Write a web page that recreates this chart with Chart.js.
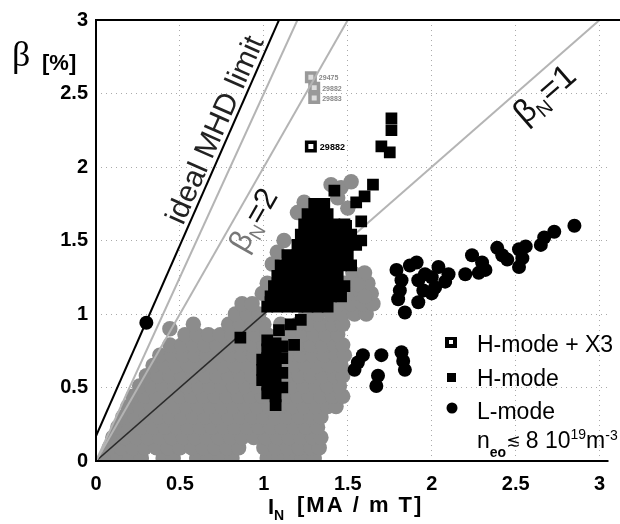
<!DOCTYPE html>
<html>
<head>
<meta charset="utf-8">
<script src="https://cdn.jsdelivr.net/npm/chart.js@4.4.1/dist/chart.umd.min.js"></script>
<style>
  html, body { margin: 0; padding: 0; background: #fff; }
  canvas { display: block; }
</style>
</head>
<body>
<canvas id="beta" width="620" height="524"></canvas>
<script>
const xTicks = [0, 0.5, 1, 1.5, 2, 2.5, 3];
const yTicks = [0, 0.5, 1, 1.5, 2, 2.5, 3];

// grey cloud (shots above the density cut), read row by row
const grayRowY = [0.02, 0.09, 0.16, 0.23, 0.30, 0.37, 0.44, 0.51, 0.58, 0.65, 0.72, 0.79, 0.86, 0.93, 1.00, 1.07, 1.14, 1.21, 1.28];
const grayRowX = [
  [0.06, 0.13, 0.2, 0.27, 0.4, 0.46, 0.6, 0.67, 0.74, 0.81, 1.02, 1.09, 1.16, 1.23, 1.3],
  [0.08, 0.15, 0.22, 0.29, 0.36, 0.43, 0.5, 0.57, 0.64, 0.71, 0.78, 0.85, 1.0, 1.07, 1.14, 1.21, 1.28, 1.33],
  [0.1, 0.17, 0.24, 0.31, 0.38, 0.45, 0.52, 0.59, 0.66, 0.73, 0.8, 0.87, 0.94, 1.01, 1.08, 1.15, 1.22, 1.29, 1.34],
  [0.13, 0.2, 0.27, 0.34, 0.41, 0.48, 0.55, 0.62, 0.69, 0.76, 0.83, 0.9, 0.97, 1.04, 1.11, 1.18, 1.25, 1.32],
  [0.16, 0.23, 0.3, 0.37, 0.44, 0.51, 0.58, 0.65, 0.72, 0.79, 0.86, 0.93, 1.0, 1.07, 1.14, 1.21, 1.28, 1.34],
  [0.19, 0.26, 0.33, 0.4, 0.47, 0.54, 0.61, 0.68, 0.75, 0.82, 0.89, 0.96, 1.03, 1.1, 1.17, 1.24, 1.31, 1.38, 1.43],
  [0.22, 0.29, 0.36, 0.43, 0.5, 0.57, 0.64, 0.71, 0.78, 0.85, 0.92, 0.99, 1.06, 1.13, 1.2, 1.27, 1.34, 1.41, 1.47],
  [0.26, 0.33, 0.4, 0.47, 0.54, 0.61, 0.68, 0.75, 0.82, 0.89, 0.96, 1.03, 1.1, 1.17, 1.24, 1.31, 1.38, 1.45],
  [0.3, 0.37, 0.44, 0.51, 0.58, 0.65, 0.72, 0.79, 0.86, 0.93, 1.0, 1.07, 1.14, 1.21, 1.28, 1.35, 1.42, 1.47],
  [0.34, 0.41, 0.48, 0.55, 0.62, 0.69, 0.76, 0.83, 0.9, 0.97, 1.04, 1.11, 1.18, 1.25, 1.32, 1.39, 1.46],
  [0.38, 0.45, 0.52, 0.59, 0.66, 0.73, 0.8, 0.87, 0.94, 1.01, 1.08, 1.15, 1.22, 1.29, 1.36, 1.43, 1.48],
  [0.44, 0.51, 0.58, 0.65, 0.72, 0.79, 0.86, 0.93, 1.0, 1.07, 1.14, 1.21, 1.28, 1.35, 1.42, 1.47],
  [0.53, 0.6, 0.67, 0.74, 0.81, 0.88, 0.95, 1.02, 1.09, 1.16, 1.23, 1.3, 1.37, 1.44],
  [0.58, 0.79, 0.86, 0.93, 1.0, 1.1, 1.2, 1.27, 1.34, 1.41, 1.47],
  [0.83, 0.9, 0.97, 1.25, 1.32, 1.4, 1.47, 1.54, 1.61],
  [0.87, 0.93, 1.38, 1.45, 1.52, 1.59, 1.65],
  [0.99, 1.44, 1.51, 1.58, 1.64],
  [1.02, 1.48, 1.55, 1.62],
  [1.53, 1.6]
];
const grayExtra = [[0.44, 0.9], [1.12, 1.5], [1.08, 1.42], [1.24, 1.76], [1.2, 1.69], [1.4, 1.88],
  [1.46, 1.86], [1.52, 1.9], [1.44, 1.79], [1.5, 1.72], [1.05, 1.34], [1.56, 1.2], [1.6, 1.12]];

// H-mode, n_e0 below the cut (black squares)
const hModeRowY = [1.05, 1.12, 1.19, 1.26, 1.33, 1.40, 1.47, 1.54, 1.61, 1.68, 1.75];
const hModeRowX = [
  [1.02, 1.08, 1.14, 1.2, 1.26, 1.32, 1.38],
  [1.04, 1.1, 1.16, 1.22, 1.28, 1.34, 1.4, 1.46],
  [1.06, 1.12, 1.18, 1.24, 1.3, 1.36, 1.42, 1.48],
  [1.08, 1.14, 1.2, 1.26, 1.32, 1.38, 1.44],
  [1.1, 1.16, 1.22, 1.28, 1.34, 1.4, 1.46, 1.52],
  [1.14, 1.2, 1.26, 1.32, 1.38, 1.44, 1.5],
  [1.2, 1.26, 1.32, 1.38, 1.44, 1.5, 1.55],
  [1.22, 1.28, 1.34, 1.4, 1.46, 1.52],
  [1.24, 1.3, 1.36, 1.42, 1.48],
  [1.26, 1.32, 1.38],
  [1.3, 1.36]
];
const hModeExtra = [
  [1.02, 0.46], [1.02, 0.52], [1.02, 0.58], [1.02, 0.64], [1.02, 0.70], [1.02, 0.76], [1.02, 0.82],
  [1.07, 0.38], [1.07, 0.44], [1.07, 0.50], [1.07, 0.56], [1.07, 0.62], [1.07, 0.68], [1.07, 0.74], [1.07, 0.80],
  [1.11, 0.50], [1.11, 0.60], [1.11, 0.70], [1.11, 0.78], [0.99, 0.55], [0.99, 0.62], [0.99, 0.69],
  [0.86, 0.84], [1.09, 0.89], [1.04, 1.08], [1.18, 0.79], [1.16, 0.93], [1.22, 0.96],
  [1.42, 1.84], [1.55, 1.76], [1.6, 1.8], [1.65, 1.88], [1.58, 1.63], [1.49, 1.6], [1.58, 1.5],
  [1.76, 2.33], [1.76, 2.25], [1.70, 2.14], [1.75, 2.10]
];

// L-mode, n_e0 below the cut (black circles)
const lMode = [
  [0.30, 0.94],
  [2.85, 1.60], [2.73, 1.56], [2.67, 1.52], [2.65, 1.47], [2.56, 1.46], [2.52, 1.44], [2.54, 1.38],
  [2.52, 1.32], [2.45, 1.37], [2.39, 1.45], [2.42, 1.40], [2.32, 1.30], [2.28, 1.28], [2.24, 1.40],
  [2.30, 1.35], [2.20, 1.27], [2.10, 1.27], [2.04, 1.32], [2.08, 1.22], [2.02, 1.18], [2.00, 1.25],
  [2.00, 1.14], [1.96, 1.27], [1.95, 1.16], [1.91, 1.35], [1.87, 1.33], [1.79, 1.30], [1.82, 1.23],
  [1.81, 1.16], [1.80, 1.10], [1.84, 1.01], [1.92, 1.08], [1.92, 1.23],
  [1.56, 0.67], [1.54, 0.62], [1.59, 0.72], [1.70, 0.72], [1.68, 0.58], [1.67, 0.51],
  [1.82, 0.74], [1.83, 0.68], [1.84, 0.62]
];

// H-mode + X3 heating
const x3Black = [[1.28, 2.14]];
const x3BlackShots = ['29882'];
const x3Gray = [[1.28, 2.61], [1.3, 2.54], [1.3, 2.47]];
const x3GrayShots = ['29475', '29882', '29883'];

// reference lines
const mhdLimit = [[0, 0.17], [1.09, 3]];
const betaN25 = [[0, 0], [1.2, 3]];
const betaN2 = [[0, 0], [1.5, 3]];
const betaN1low = [[0, 0], [1.12, 1.12]];
const betaN1 = [[1.12, 1.12], [3, 3]];

const SANS = '"Liberation Sans", Arial, sans-serif';
const pts = a => a.map(([x, y]) => ({ x, y }));
const rows = (ys, xs) => ys.flatMap((y, i) => xs[i].map(x => ({ x, y })));

function lineSet(data, color, width, order) {
  return { data: pts(data), showLine: true, borderColor: color, borderWidth: width,
           pointRadius: 0, order };
}

function along(ctx, p0, p1, t, pieces) {
  const ang = Math.atan2(p1[1] - p0[1], p1[0] - p0[0]);
  ctx.save();
  ctx.translate(p0[0] + (p1[0] - p0[0]) * t, p0[1] + (p1[1] - p0[1]) * t);
  ctx.rotate(ang);
  let cx = 0;
  for (const [txt, font, dy, color] of pieces) {
    ctx.font = font;
    ctx.fillStyle = color;
    ctx.fillText(txt, cx, dy);
    cx += ctx.measureText(txt).width;
  }
  ctx.restore();
}

function runText(ctx, x, pieces) {
  for (const [txt, font, baseY, color] of pieces) {
    ctx.font = font;
    ctx.fillStyle = color || '#000';
    ctx.fillText(txt, x, baseY);
    x += ctx.measureText(txt).width;
  }
}

const annotate = {
  id: 'annotate',
  afterDatasetsDraw(chart) {
    const { ctx, chartArea: a, scales } = chart;
    const px = d => [scales.x.getPixelForValue(d[0]), scales.y.getPixelForValue(d[1])];
    ctx.save();

    // frame
    ctx.strokeStyle = '#000';
    ctx.lineWidth = 2;
    ctx.beginPath();
    ctx.moveTo(chart.width, a.top);
    ctx.lineTo(a.left, a.top);
    ctx.lineTo(a.left, a.bottom);
    ctx.lineTo(a.right - 2, a.bottom);
    ctx.stroke();

    // labels along the lines
    ctx.textBaseline = 'alphabetic';
    along(ctx, px(mhdLimit[0]), px(mhdLimit[1]), 0.5, [['ideal MHD limit', '30px ' + SANS, -5, '#222']]);
    along(ctx, px(betaN2[0]), px(betaN2[1]), 0.5, [
      ['β', '31px ' + SANS, 27, '#777'], ['N', '19px ' + SANS, 33, '#777'], ['=2', '31px ' + SANS, 27, '#111']]);
    along(ctx, px(betaN1[0]), px(betaN1[1]), 0.7, [
      ['β', '33px ' + SANS, 30, '#111'], ['N', '20px ' + SANS, 37, '#111'], ['=1', '33px ' + SANS, 30, '#111']]);

    // shot numbers
    x3Black.forEach((d, i) => {
      const [x, y] = px(d);
      ctx.font = 'bold 9px ' + SANS; ctx.fillStyle = '#000';
      ctx.fillText(x3BlackShots[i], x + 9, y + 4);
    });
    x3Gray.forEach((d, i) => {
      const [x, y] = px(d);
      ctx.font = 'bold 7px ' + SANS; ctx.fillStyle = '#888';
      ctx.fillText(x3GrayShots[i], x + 8, y + 3);
    });

    // legend
    ctx.fillStyle = '#000';
    ctx.fillRect(445, 337, 12, 11);
    ctx.fillStyle = '#fff';
    ctx.fillRect(449, 340, 4, 4);
    ctx.fillStyle = '#000';
    ctx.fillRect(447, 373, 9, 9);
    ctx.beginPath(); ctx.arc(452, 408, 5.5, 0, Math.PI * 2); ctx.fill();
    runText(ctx, 477, [['H-mode + X3', '23px ' + SANS, 352]]);
    runText(ctx, 477, [['H-mode', '23px ' + SANS, 386]]);
    runText(ctx, 477, [['L-mode', '23px ' + SANS, 419]]);
    runText(ctx, 477, [['n', '23px ' + SANS, 448], ['eo', 'bold 14px ' + SANS, 457],
      ['≲ ', '17px "DejaVu Sans"', 446], ['8 10', '23px ' + SANS, 448], ['19', '14px ' + SANS, 439],
      ['m', '23px ' + SANS, 448], ['-3', '14px ' + SANS, 440]]);

    // axis titles
    runText(ctx, 12, [['β', '36px "Liberation Serif", serif', 66]]);
    runText(ctx, 42, [['[%]', 'bold 22px ' + SANS, 70]]);
    runText(ctx, 268, [['I', 'bold 22px ' + SANS, 514], ['N', 'bold 14px ' + SANS, 520]]);
    ctx.letterSpacing = '2px';
    runText(ctx, 297, [['[MA / m T]', 'bold 22px ' + SANS, 512]]);
    ctx.restore();
  }
};

const tickFont = { family: SANS, size: 20, weight: 'bold' };

new Chart(document.getElementById('beta'), {
  type: 'scatter',
  data: {
    datasets: [
      { data: pts(x3Black), pointStyle: 'rect', pointRadius: 6, backgroundColor: '#fff',
        borderColor: '#000', borderWidth: 3.5, order: 0 },
      { data: rows(hModeRowY, hModeRowX).concat(pts(hModeExtra)), pointStyle: 'rect', pointRadius: 8.3,
        backgroundColor: '#000', borderWidth: 0, order: 1 },
      { data: pts(lMode), pointStyle: 'circle', pointRadius: 7, backgroundColor: '#000', borderWidth: 0, order: 1 },
      lineSet(mhdLimit, '#000', 2, 2),
      lineSet(betaN25, '#b4b4b4', 2, 3),
      lineSet(betaN2, '#b4b4b4', 2, 3),
      lineSet(betaN1, '#b4b4b4', 2, 3),
      lineSet(betaN1low, '#2a2a2a', 1.5, 3),
      { data: pts(x3Gray), pointStyle: 'rect', pointRadius: 6, backgroundColor: '#ddd',
        borderColor: '#999', borderWidth: 3.5, order: 4 },
      { data: rows(grayRowY, grayRowX).concat(pts(grayExtra)), pointStyle: 'circle', pointRadius: 7.7,
        backgroundColor: '#8c8c8c', borderWidth: 0, order: 5 }
    ]
  },
  options: {
    responsive: false,
    animation: false,
    events: [],
    layout: { padding: { top: 20, right: 4, left: 0, bottom: 0 } },
    plugins: { legend: { display: false }, tooltip: { enabled: false } },
    scales: {
      x: {
        type: 'linear', min: 0, max: 3.065,
        afterBuildTicks: s => { s.ticks = xTicks.map(v => ({ value: v })); },
        afterFit: s => { s.height = 63; },
        ticks: { color: '#000', font: tickFont, padding: 11, maxRotation: 0, callback: v => String(v) },
        grid: { color: '#aaa', lineWidth: 1, drawTicks: false },
        border: { display: false, dash: [1, 4] }
      },
      y: {
        type: 'linear', min: 0, max: 3,
        afterBuildTicks: s => { s.ticks = yTicks.map(v => ({ value: v })); },
        afterFit: s => { s.width = 96; },
        ticks: { color: '#000', font: tickFont, padding: 8, callback: v => String(v) },
        grid: { color: '#aaa', lineWidth: 1, drawTicks: false },
        border: { display: false, dash: [1, 4] }
      }
    }
  },
  plugins: [annotate]
});
</script>
</body>
</html>
